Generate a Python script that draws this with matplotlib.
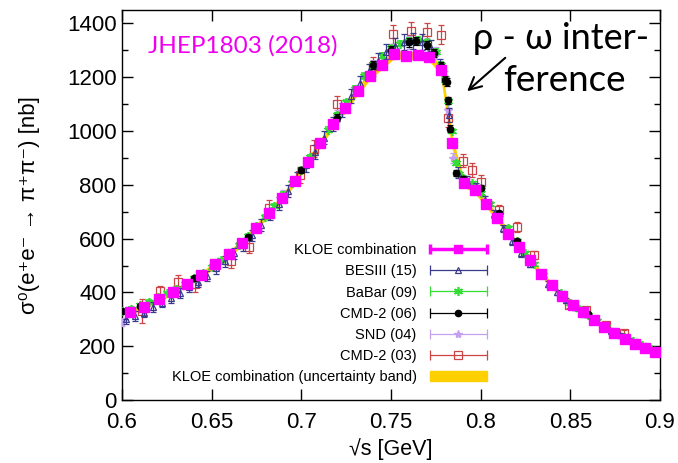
import matplotlib
matplotlib.use("Agg")
import matplotlib.pyplot as plt
from matplotlib.lines import Line2D
from matplotlib.patches import Patch
from matplotlib.legend_handler import HandlerBase
from matplotlib.ticker import MultipleLocator

plt.rcParams['font.family'] = ['Liberation Sans', 'DejaVu Sans']

# ---------------- data ----------------
kloe_x = [0.6042, 0.6124, 0.6205, 0.6285, 0.6364, 0.6442, 0.6519, 0.6595, 0.6671, 0.6745,
          0.6819, 0.6892, 0.6964, 0.7036, 0.7106, 0.7176, 0.7246, 0.7314, 0.7382, 0.7450,
          0.7517, 0.7583, 0.7649, 0.7714, 0.7778, 0.7842, 0.7906, 0.7969, 0.8031, 0.8093,
          0.8155, 0.8216, 0.8276, 0.8337, 0.8396, 0.8456, 0.8515, 0.8573, 0.8631, 0.8689,
          0.8746, 0.8803, 0.8860, 0.8916, 0.8972]
kloe_y = [328, 346, 376, 400, 432, 464, 505, 542, 585, 640,
          695, 750, 815, 885, 955, 1025, 1085, 1150, 1205, 1245,
          1285, 1280, 1282, 1275, 1228, 955, 805, 782, 730, 678,
          619, 569, 519, 470, 427, 386, 355, 328, 297, 272,
          248, 228, 208, 194, 179]
kloe_err = [6, 6, 6, 6, 7, 7, 7, 7, 8, 8,
            8, 9, 9, 10, 10, 10, 11, 11, 11, 11,
            12, 12, 12, 12, 12, 12, 10, 10, 9, 9,
            8, 8, 7, 7, 6, 6, 6, 5, 5, 5,
            5, 5, 4, 4, 4]

besiii_x = [0.6025, 0.6075, 0.6125, 0.6175, 0.6225, 0.6275, 0.6325, 0.6375, 0.6425, 0.6475,
            0.6525, 0.6575, 0.6625, 0.6675, 0.6725, 0.6775, 0.6825, 0.6875, 0.6925, 0.6975,
            0.7025, 0.7075, 0.7125, 0.7175, 0.7225, 0.7275, 0.7325, 0.7375, 0.7425, 0.7475,
            0.7525, 0.7575, 0.7625, 0.7675, 0.7725, 0.7775, 0.7825, 0.7875, 0.7925, 0.7975,
            0.8025, 0.8075, 0.8125, 0.8175, 0.8225, 0.8275, 0.8325, 0.8375, 0.8425, 0.8475,
            0.8525, 0.8575, 0.8625, 0.8675, 0.8725, 0.8775, 0.8825, 0.8875, 0.8925, 0.8975]
besiii_y = [300, 312, 325, 345, 362, 380, 398, 420, 440, 462,
            490, 515, 545, 575, 612, 650, 690, 730, 778, 822,
            872, 922, 975, 1025, 1078, 1130, 1178, 1222, 1262, 1295,
            1318, 1330, 1335, 1330, 1310, 1240, 1060, 845, 815, 790,
            742, 690, 638, 590, 545, 505, 468, 432, 400, 370,
            345, 320, 298, 278, 258, 240, 224, 210, 196, 184]
besiii_err = [18, 18, 18, 18, 18, 18, 18, 19, 19, 19,
              20, 20, 20, 21, 21, 22, 22, 23, 23, 24,
              24, 25, 25, 26, 26, 27, 27, 28, 28, 29,
              29, 30, 30, 30, 30, 28, 25, 20, 18, 17,
              16, 15, 14, 13, 12, 12, 11, 11, 10, 10,
              9, 9, 9, 8, 8, 8, 7, 7, 7, 7]

babar_x = [0.600, 0.605, 0.610, 0.615, 0.620, 0.625, 0.630, 0.635, 0.640, 0.645,
           0.650, 0.655, 0.660, 0.665, 0.670, 0.675, 0.680, 0.685, 0.690, 0.695,
           0.700, 0.705, 0.710, 0.715, 0.720, 0.725, 0.730, 0.735, 0.740, 0.745,
           0.750, 0.755, 0.760, 0.765, 0.770, 0.775, 0.778, 0.780, 0.782, 0.784,
           0.786, 0.788, 0.790, 0.795, 0.800, 0.805, 0.810, 0.815, 0.820, 0.825,
           0.830, 0.835, 0.840, 0.845, 0.850, 0.855, 0.860, 0.865, 0.870, 0.875,
           0.880, 0.885, 0.890, 0.895, 0.900]
babar_y = [332, 340, 352, 366, 382, 398, 414, 432, 452, 472,
           496, 520, 548, 578, 610, 646, 682, 722, 764, 808,
           856, 904, 955, 1005, 1058, 1108, 1158, 1205, 1245, 1280,
           1308, 1325, 1335, 1338, 1330, 1295, 1245, 1190, 1110, 1000,
           880, 840, 825, 805, 770, 730, 690, 640, 590, 545,
           505, 465, 430, 398, 362, 340, 316, 293, 272, 252,
           234, 218, 203, 190, 180]
babar_err = [5, 5, 5, 5, 5, 5, 5, 5, 6, 6,
             6, 6, 6, 6, 7, 7, 7, 7, 8, 8,
             8, 8, 9, 9, 9, 9, 10, 10, 10, 10,
             10, 10, 10, 10, 10, 10, 10, 10, 9, 9,
             8, 8, 8, 7, 7, 7, 6, 6, 6, 5,
             5, 5, 5, 4, 4, 4, 4, 4, 3, 3,
             3, 3, 3, 3, 3]

cmd06_x = [0.600, 0.610, 0.640, 0.670, 0.700, 0.720, 0.740, 0.750, 0.760, 0.764,
           0.770, 0.774, 0.778, 0.780, 0.781, 0.782, 0.783, 0.784, 0.786, 0.790,
           0.800, 0.810, 0.820, 0.840, 0.860, 0.880, 0.900]
cmd06_y = [330, 350, 452, 605, 855, 1050, 1245, 1300, 1330, 1335,
           1320, 1290, 1240, 1190, 1182, 1114, 1009, 960, 843, 822,
           790, 695, 590, 432, 318, 235, 182]
cmd06_err = [8, 8, 9, 10, 12, 14, 15, 16, 16, 16,
             16, 16, 15, 15, 15, 14, 13, 12, 11, 11,
             10, 9, 8, 7, 6, 5, 4]

snd_x = [0.600, 0.630, 0.660, 0.690, 0.720, 0.740, 0.750, 0.760, 0.770, 0.775,
         0.780, 0.782, 0.7845, 0.790, 0.800, 0.820, 0.840, 0.860, 0.880, 0.900]
snd_y = [290, 405, 545, 760, 1055, 1240, 1300, 1330, 1320, 1290,
         1200, 1080, 900, 820, 785, 585, 430, 315, 232, 182]
snd_err = [15, 16, 18, 20, 22, 24, 25, 25, 25, 24,
           22, 20, 18, 16, 15, 12, 10, 8, 6, 5]

cmd03_x = [0.611, 0.621, 0.631, 0.641, 0.661, 0.671, 0.682, 0.699, 0.707, 0.720,
           0.740, 0.751, 0.761, 0.770, 0.778, 0.782, 0.790, 0.795, 0.800, 0.810,
           0.820, 0.830, 0.849, 0.859, 0.870, 0.880]
cmd03_y = [330, 405, 440, 430, 515, 570, 715, 835, 935, 1100,
           1240, 1360, 1372, 1368, 1358, 1050, 890, 855, 811, 705,
           642, 538, 355, 335, 280, 250]
cmd03_err = [45, 18, 25, 30, 25, 25, 30, 30, 30, 30,
             35, 35, 35, 35, 35, 35, 25, 25, 25, 20,
             18, 15, 12, 12, 10, 10]

legend_labels = ["KLOE combination", "BESIII (15)", "BaBar (09)", "CMD-2 (06)",
                 "SND (04)", "CMD-2 (03)", "KLOE combination (uncertainty band)"]

# ---------------- colours ----------------
c_kloe = '#ff00ff'
c_bes = '#3a3a8c'
c_babar = '#33dd33'
c_cmd06 = '#000000'
c_snd = '#c4a0ee'
c_cmd03 = '#cc4444'
c_band = '#ffd000'

fig = plt.figure(figsize=(6.78, 4.63), dpi=100)
ax = fig.add_axes([0.1799, 0.1361, 0.7935, 0.8423])

# uncertainty band
lo = [y - e for y, e in zip(kloe_y, kloe_err)]
hi = [y + e for y, e in zip(kloe_y, kloe_err)]
ax.fill_between(kloe_x, lo, hi, color=c_band, lw=1.2, edgecolor=c_band, zorder=1)

ekw = dict(ls='none', capsize=2.5, elinewidth=0.9, capthick=0.9)
ax.errorbar(cmd03_x, cmd03_y, yerr=cmd03_err, marker='s', ms=5.5, mfc='none',
            mec=c_cmd03, color=c_cmd03, mew=0.9, zorder=2, **ekw)
ax.errorbar(snd_x, snd_y, yerr=snd_err, marker='*', ms=6, mfc=c_snd,
            mec=c_snd, color=c_snd, zorder=3, **ekw)
ax.errorbar(babar_x, babar_y, yerr=babar_err, marker=(6, 2, 0), ms=6.5,
            mec=c_babar, color=c_babar, mew=1.2, zorder=4, **ekw)
ax.errorbar(besiii_x, besiii_y, yerr=besiii_err, marker='^', ms=4.5, mfc='none',
            mec=c_bes, color=c_bes, mew=0.9, zorder=5, **ekw)
ax.errorbar(cmd06_x, cmd06_y, yerr=cmd06_err, marker='o', ms=4.5, mfc=c_cmd06,
            mec=c_cmd06, color=c_cmd06, zorder=6, **ekw)
ax.errorbar(kloe_x, kloe_y, yerr=kloe_err, marker='s', ms=7, mfc=c_kloe, mec=c_kloe,
            color=c_kloe, ls='none', capsize=2.5, elinewidth=2, capthick=2, zorder=7)

ax.set_xlim(0.6, 0.9)
ax.set_ylim(0, 1450)
ax.set_xticks([0.6, 0.65, 0.7, 0.75, 0.8, 0.85, 0.9])
ax.set_xticklabels(['0.6', '0.65', '0.7', '0.75', '0.8', '0.85', '0.9'])
ax.set_yticks([0, 200, 400, 600, 800, 1000, 1200, 1400])
ax.yaxis.set_minor_locator(MultipleLocator(100))
ax.tick_params(which='both', direction='in', top=True, right=True, labelsize=16)
ax.tick_params(which='major', length=8, width=1)
ax.tick_params(which='minor', length=4, width=1)
ax.tick_params(axis='y', pad=4)
ax.tick_params(axis='x', pad=9)
for s in ax.spines.values():
    s.set_linewidth(1.0)

ax.set_xlabel('√s [GeV]', fontsize=15.5)
ax.xaxis.set_label_coords(0.5, -0.098)
ax.set_ylabel('σ⁰(e⁺e⁻ → π⁺π⁻) [nb]', fontsize=16)
ax.yaxis.set_label_coords(-0.152, 0.5)


# ---------------- legend ----------------
class ErrHandler(HandlerBase):
    def __init__(self, color, marker, mfc, ms, lw, mew=1.0):
        super().__init__()
        self.color, self.marker, self.mfc, self.ms, self.lw, self.mew = color, marker, mfc, ms, lw, mew

    def create_artists(self, legend, orig_handle, xdescent, ydescent, width, height,
                       fontsize, trans):
        x0 = -xdescent
        x1 = -xdescent + width
        y = -ydescent + height / 2
        ln = Line2D([x0, x1], [y, y], color=self.color, lw=self.lw, solid_capstyle='butt')
        caps = Line2D([x0, x1], [y, y], ls='none', marker='|', ms=7, mew=self.lw,
                      color=self.color)
        mk = Line2D([(x0 + x1) / 2], [y], ls='none', marker=self.marker, ms=self.ms,
                    mfc=self.mfc, mec=self.color, mew=self.mew)
        for a in (ln, caps, mk):
            a.set_transform(trans)
        return [ln, caps, mk]


handles = [Line2D([], []) for _ in range(6)]
hmap = {
    handles[0]: ErrHandler(c_kloe, 's', c_kloe, 6, 2.5),
    handles[1]: ErrHandler(c_bes, '^', 'none', 4.5, 0.9, 0.9),
    handles[2]: ErrHandler(c_babar, (6, 2, 0), c_babar, 6.5, 0.9, 1.2),
    handles[3]: ErrHandler(c_cmd06, 'o', c_cmd06, 4.5, 0.9),
    handles[4]: ErrHandler(c_snd, '*', c_snd, 6, 0.9),
    handles[5]: ErrHandler(c_cmd03, 's', 'none', 5.5, 0.9, 0.9),
}
band_handle = Patch(facecolor=c_band, edgecolor=c_band)
leg = ax.legend(handles + [band_handle], legend_labels, handler_map=hmap,
                loc='upper right', bbox_to_anchor=(0.678, 0.402), frameon=False,
                markerfirst=False, fontsize=10.5, handlelength=3.9, handletextpad=0.9,
                labelspacing=0.49, borderpad=0, borderaxespad=0)

# ---------------- annotations ----------------
ax.text(0.6145, 1318, 'JHEP1803 (2018)', color='#ee00ee', fontsize=17.5,
        family=['Lato', 'DejaVu Sans'], va='center', ha='left')
ax.text(0.7957, 1344, 'ρ - ω inter-', color='black', fontsize=26,
        family=['Lato', 'DejaVu Sans'], va='center', ha='left')
ax.text(0.8125, 1188, 'ference', color='black', fontsize=26.5,
        family=['Lato', 'DejaVu Sans'], va='center', ha='left')
ax.annotate('', xy=(0.7913, 1141), xytext=(0.8149, 1279),
            arrowprops=dict(arrowstyle='->', color='black', lw=1.5, mutation_scale=22))

fig.savefig('out.png', dpi=100)
